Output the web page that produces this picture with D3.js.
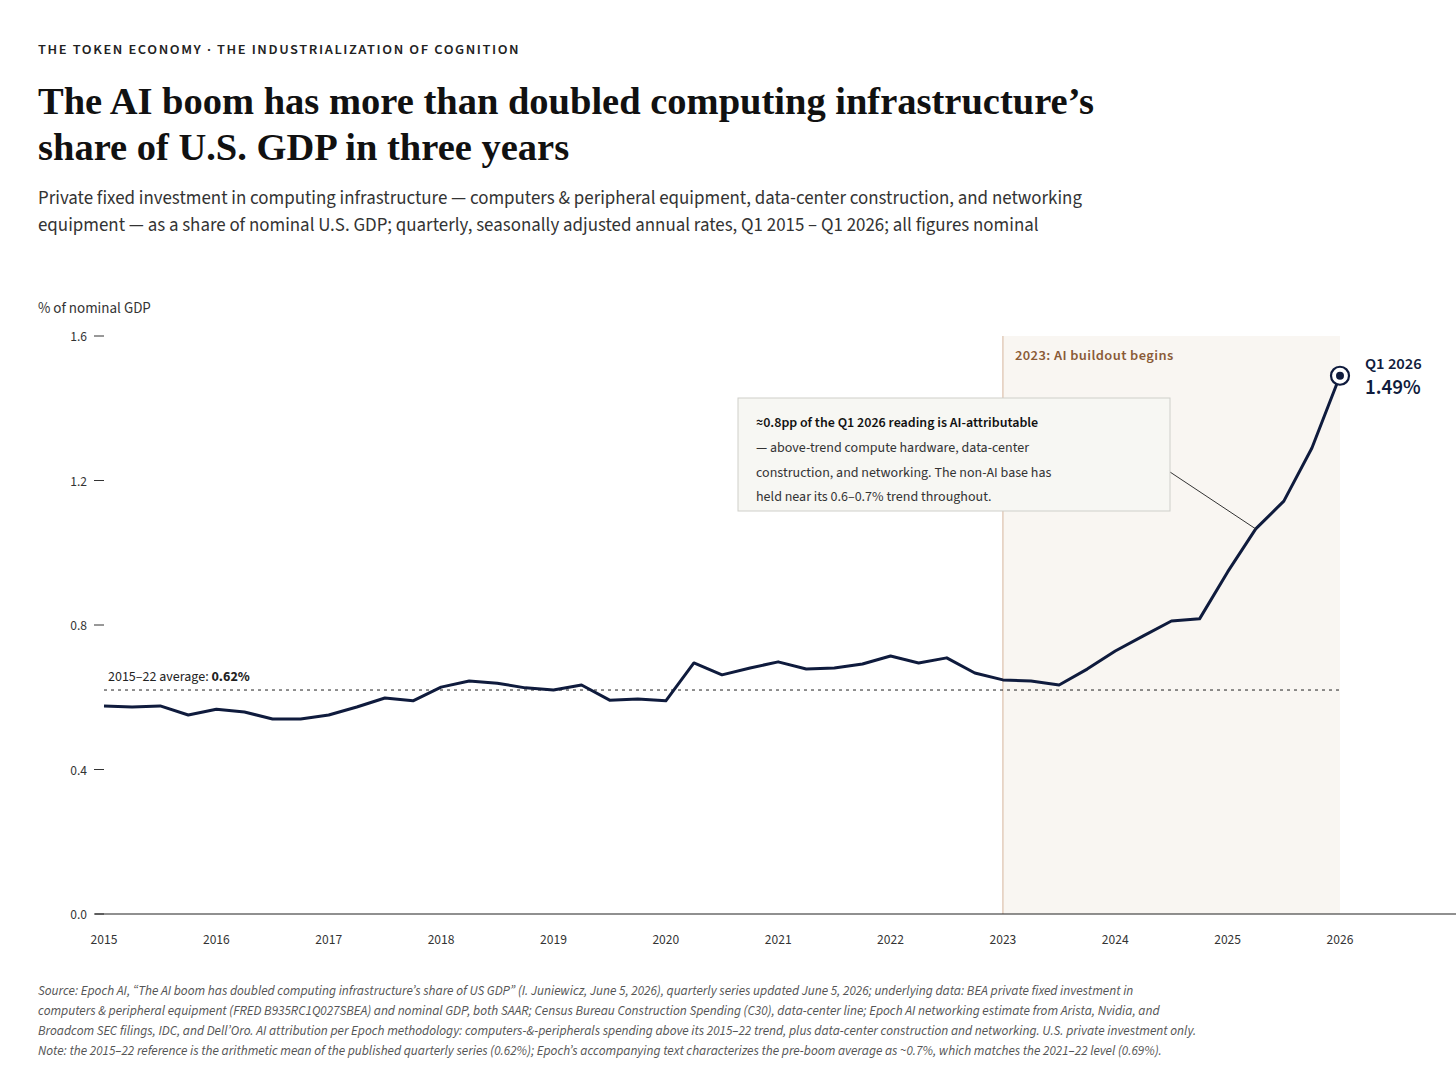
<!DOCTYPE html>
<html><head><meta charset="utf-8">
<script src="https://cdn.jsdelivr.net/npm/d3@7"></script>
<style>body{margin:0;background:#fff}</style></head>
<body><svg id="c" width="1456" height="1090"></svg>
<script>
const quarters = d3.range(45).map(i => 2015 + i/4);
const share = [0.576,0.573,0.576,0.551,0.567,0.559,0.540,0.540,0.551,0.573,0.598,0.590,
0.628,0.645,0.639,0.626,0.620,0.634,0.592,0.595,0.590,0.695,0.662,0.681,0.698,0.678,0.681,0.692,
0.714,0.695,0.709,0.667,0.648,0.645,0.634,0.678,0.728,0.770,0.811,0.817,0.947,1.066,1.143,1.290,1.49];
const yTicks = [0,0.4,0.8,1.2,1.6];
const xTicks = d3.range(2015,2027);
const avg = 0.62;

const svg = d3.select("#c");
const sans = "'Source Sans 3','Lato','Noto Sans',sans-serif";
const x = d3.scaleLinear().domain([2015,2026]).range([104,1340]);
const y = d3.scaleLinear().domain([0,1.6]).range([914,336]);
const navy = "#0f1b3d";
const T = (px,py,t,o={}) => svg.append("text").attr("x",px).attr("y",py).text(t)
  .attr("font-family",o.f||sans).attr("font-size",o.s||14).attr("fill",o.c||"#222")
  .attr("font-weight",o.w||400).attr("text-anchor",o.a||"start").attr("letter-spacing",o.ls||0)
  .attr("font-style",o.i||"normal");

T(38,54,"THE TOKEN ECONOMY · THE INDUSTRIALIZATION OF COGNITION",{s:14.5,w:600,ls:1.6,c:"#222"});
const serif="'Liberation Serif','DejaVu Serif',serif";
T(38,114,"The AI boom has more than doubled computing infrastructure’s",{f:serif,s:38.5,w:700,c:"#111"});
T(38,160,"share of U.S. GDP in three years",{f:serif,s:38.5,w:700,c:"#111"});
T(38,204,"Private fixed investment in computing infrastructure — computers & peripheral equipment, data-center construction, and networking",{s:18.9,c:"#333"});
T(38,231,"equipment — as a share of nominal U.S. GDP; quarterly, seasonally adjusted annual rates, Q1 2015 – Q1 2026; all figures nominal",{s:18.9,c:"#333"});
T(38,313,"% of nominal GDP",{s:15,c:"#333"});

svg.append("rect").attr("x",x(2023)).attr("y",y(1.6)).attr("width",x(2026)-x(2023)).attr("height",y(0)-y(1.6)).attr("fill","#f9f6f2");
svg.append("line").attr("x1",x(2023)).attr("x2",x(2023)).attr("y1",y(1.6)).attr("y2",y(0)).attr("stroke","#dcc0ab").attr("stroke-width",1.2);
T(x(2023)+12,360,"2023: AI buildout begins",{s:14.5,w:600,c:"#8a5a36",ls:0.4});

yTicks.forEach(v=>{
  svg.append("line").attr("x1",94).attr("x2",104).attr("y1",y(v)).attr("y2",y(v)).attr("stroke","#333");
  T(87,y(v)+5,d3.format(".1f")(v),{s:13.5,a:"end",c:"#333"});
});
svg.append("line").attr("x1",95).attr("x2",1456).attr("y1",y(0)).attr("y2",y(0)).attr("stroke","#222").attr("stroke-width",1.2);
xTicks.forEach(v=>T(x(v),944,String(v),{s:13.5,a:"middle",c:"#333"}));

svg.append("line").attr("x1",104).attr("x2",1340).attr("y1",y(avg)).attr("y2",y(avg)).attr("stroke","#222").attr("stroke-dasharray","3,4");
const at=T(108,681,"2015–22 average: ",{s:14,c:"#222"});
at.append("tspan").attr("font-weight",700).text("0.62%");

svg.append("path").datum(quarters.map((q,i)=>[q,share[i]]))
 .attr("d",d3.line().x(d=>x(d[0])).y(d=>y(d[1]))).attr("fill","none").attr("stroke",navy).attr("stroke-width",3).attr("stroke-linejoin","round");
const lx=x(2026), ly=y(share[44]);
svg.append("circle").attr("cx",lx).attr("cy",ly).attr("r",9).attr("fill","#fff").attr("stroke",navy).attr("stroke-width",2.2);
svg.append("circle").attr("cx",lx).attr("cy",ly).attr("r",4).attr("fill",navy);
T(1365,369,"Q1 2026",{s:16.5,w:600,c:navy});
T(1365,394,"1.49%",{s:21,w:600,c:navy});

svg.append("line").attr("x1",1170).attr("y1",472).attr("x2",x(2025.25)).attr("y2",y(share[41])).attr("stroke","#333").attr("stroke-width",1);
svg.append("rect").attr("x",738).attr("y",398).attr("width",432).attr("height",113).attr("fill","#f7f7f3").attr("stroke","#cfcfca");
T(756,427,"≈0.8pp of the Q1 2026 reading is AI-attributable",{s:14,w:600,c:"#111"});
["— above-trend compute hardware, data-center","construction, and networking. The non-AI base has","held near its 0.6–0.7% trend throughout."]
 .forEach((t,i)=>T(756,452+i*24.5,t,{s:14,c:"#333"}));

["Source: Epoch AI, “The AI boom has doubled computing infrastructure’s share of US GDP” (I. Juniewicz, June 5, 2026), quarterly series updated June 5, 2026; underlying data: BEA private fixed investment in",
"computers & peripheral equipment (FRED B935RC1Q027SBEA) and nominal GDP, both SAAR; Census Bureau Construction Spending (C30), data-center line; Epoch AI networking estimate from Arista, Nvidia, and",
"Broadcom SEC filings, IDC, and Dell’Oro. AI attribution per Epoch methodology: computers-&-peripherals spending above its 2015–22 trend, plus data-center construction and networking. U.S. private investment only.",
"Note: the 2015–22 reference is the arithmetic mean of the published quarterly series (0.62%); Epoch’s accompanying text characterizes the pre-boom average as ~0.7%, which matches the 2021–22 level (0.69%)."]
 .forEach((t,i)=>T(38,995+i*20,t,{s:13.3,i:"italic",c:"#555"}));
</script></body></html>
